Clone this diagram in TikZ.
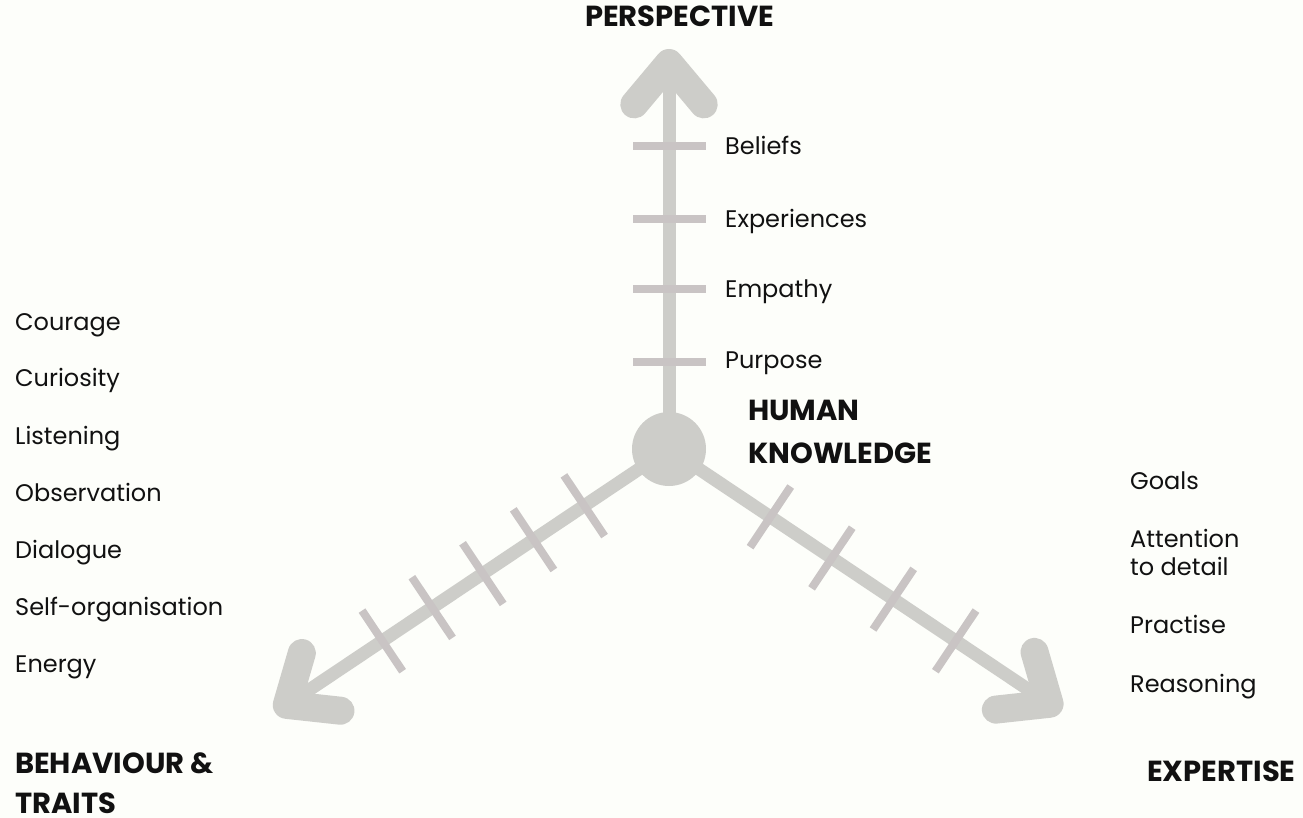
\documentclass[tikz,border=0pt]{standalone}
\usepackage{fontspec}
\setmainfont{Poppins}
\usetikzlibrary{calc}
\definecolor{bg}{HTML}{FDFEFA}
\definecolor{axisgray}{HTML}{CDCDC9}
\definecolor{tickgray}{HTML}{C9C4C4}
\definecolor{ink}{HTML}{111111}
\begin{document}
\begin{tikzpicture}[x=1pt,y=-1pt,
 shaft/.style={draw=axisgray, line width=13pt},
 headstyle/.style={draw=axisgray, line width=28pt, line cap=round, line join=round},
 tickmark/.style={draw=tickgray, line width=8pt},
 lbl/.style={anchor=base west, inner sep=0pt, font=\fontsize{24}{28}\selectfont, text=ink},
 ttl/.style={anchor=base west, inner sep=0pt, font=\fontsize{29}{34}\selectfont\bfseries, text=ink}]
\fill[bg] (0,0) rectangle (1303,818);
\useasboundingbox (0,0) rectangle (1303,818);
\coordinate (c) at (669,449);
\coordinate (tipP) at ($(c)+(-90:386)$);
\coordinate (tipB) at ($(c)+(146.2:460)$);
\coordinate (tipE) at ($(c)+(33.8:458)$);
% shafts
\draw[shaft] (c) -- (tipP);
\draw[shaft] (c) -- (tipB);
\draw[shaft] (c) -- (tipE);
% heads
\draw[headstyle] ($(tipP)+(50:54)$) -- (tipP) -- ($(tipP)+(130:54)$);
\draw[headstyle] ($(tipB)+(286.2:54)$) -- (tipB) -- ($(tipB)+(6.2:54)$);
\draw[headstyle] ($(tipE)+(173.8:54)$) -- (tipE) -- ($(tipE)+(253.8:54)$);
% ticks
\foreach \d in {87,160,230,303}
  \draw[tickmark] ($(c)+(-90:\d)+(0:36.5)$) -- ($(c)+(-90:\d)+(180:36.5)$);
\foreach \d in {102,163,224,285,345}
  \draw[tickmark] ($(c)+(146.2:\d)+(56.2:36.5)$) -- ($(c)+(146.2:\d)+(236.2:36.5)$);
\foreach \d in {122,196,270,345}
  \draw[tickmark] ($(c)+(33.8:\d)+(123.8:36.5)$) -- ($(c)+(33.8:\d)+(-56.2:36.5)$);
% hub
\node[circle, fill=axisgray, minimum size=74pt, inner sep=0pt] (hub) at (c) {};
% titles
\node[ttl] (tP) at (585,27) {PERSPECTIVE};
\node[ttl] (tH1) at (748,420) {HUMAN};
\node[ttl] (tH2) at (748,463) {KNOWLEDGE};
\node[ttl] (tB1) at (15,773) {BEHAVIOUR \&};
\node[ttl] (tB2) at (15,813) {TRAITS};
\node[ttl] (tE) at (1147,781) {EXPERTISE};
% perspective labels
\node[lbl] (p1) at (725,155) {Beliefs};
\node[lbl] (p2) at (725,228) {Experiences};
\node[lbl] (p3) at (725,298) {Empathy};
\node[lbl] (p4) at (725,368) {Purpose};
% behaviour labels
\node[lbl] (b1) at (15,330) {Courage};
\node[lbl] (b2) at (15,386) {Curiosity};
\node[lbl] (b3) at (15,444) {Listening};
\node[lbl] (b4) at (15,501) {Observation};
\node[lbl] (b5) at (15,558) {Dialogue};
\node[lbl] (b6) at (15,615) {Self-organisation};
\node[lbl] (b7) at (15,672) {Energy};
% expertise labels
\node[lbl] (e1) at (1130,489) {Goals};
\node[lbl] (e2) at (1130,547) {Attention};
\node[lbl] (e3) at (1130,575) {to detail};
\node[lbl] (e4) at (1130,633) {Practise};
\node[lbl] (e5) at (1130,692) {Reasoning};
\end{tikzpicture}
\end{document}
